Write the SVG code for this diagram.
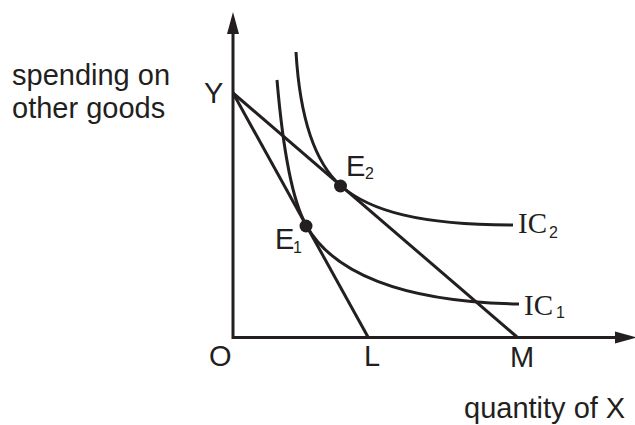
<svg xmlns="http://www.w3.org/2000/svg" width="635" height="425" viewBox="0 0 635 425">
<style>
.ln{fill:none;stroke:#231f20;stroke-width:3;}
.t{font-family:"Liberation Sans",Arial,sans-serif;font-size:29px;fill:#231f20;}
.ts{font-family:"Liberation Serif","Times New Roman",serif;font-size:29px;fill:#231f20;}
.sub{font-family:"Liberation Sans",Arial,sans-serif;font-size:16px;fill:#231f20;}
.dot{fill:#231f20;}
</style>
<rect width="635" height="425" fill="#ffffff"/>
<g id="axes">
<path class="ln" d="M233,30 V337.5 H630"/>
<polygon class="dot" points="233,12 227,34 239,34"/>
<polygon class="dot" points="637,337.5 615,331.5 615,343.5"/>
</g>
<g id="connectors">
<path class="ln" d="M233,93 L368,337"/>
<path class="ln" d="M233,93 L517,337"/>
</g>
<g id="IC1">
<path class="ln" d="M277,80 C283,150 292,200 306,225 C332,272 400,302 519,304"/>
<text class="ts" x="524" y="315">IC</text><text class="sub" x="556" y="318">1</text>
</g>
<g id="IC2">
<path class="ln" d="M296,52 C300,120 315,163 341,186 C370,211 420,225 513,225"/>
<text class="ts" x="518" y="233">IC</text><text class="sub" x="549" y="238">2</text>
</g>
<g id="E1">
<circle class="dot" cx="306" cy="226" r="6.5"/>
<text class="t" x="275" y="249">E</text><text class="sub" x="293" y="253">1</text>
</g>
<g id="E2">
<circle class="dot" cx="340.5" cy="186" r="6.5"/>
<text class="t" x="346" y="176">E</text><text class="sub" x="365" y="179">2</text>
</g>
<g id="labels">
<text class="t" x="12" y="85">spending on</text>
<text class="t" x="12" y="118">other goods</text>
<text class="t" x="204" y="103">Y</text>
<text class="t" x="209" y="366">O</text>
<text class="t" x="364" y="366">L</text>
<text class="t" x="510" y="367">M</text>
<text class="t" x="464" y="418">quantity of X</text>
</g>
</svg>
